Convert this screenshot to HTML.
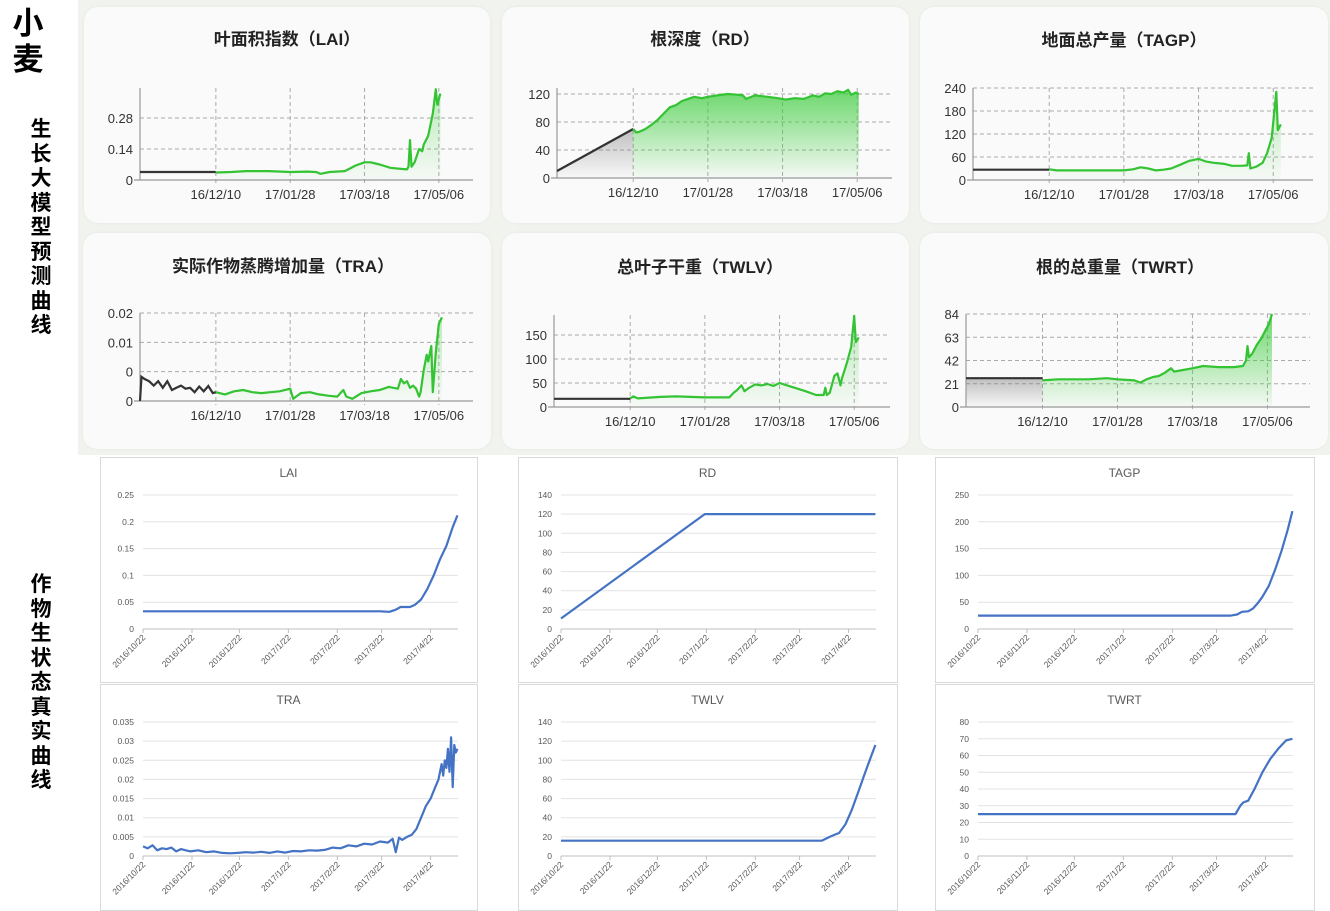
<!DOCTYPE html>
<html><head><meta charset="utf-8">
<style>
html,body{margin:0;padding:0;width:1330px;height:911px;overflow:hidden;background:#fff;font-family:"Liberation Sans","Noto Sans CJK SC",sans-serif;}
#panel{position:absolute;left:78px;top:0;width:1252px;height:455px;background:#f1f3ee;}
.card{position:absolute;background:#fafafa;border-radius:14px;box-shadow:0 0 3px rgba(0,0,0,0.06);}
.box{position:absolute;border:1px solid #d9d9d9;background:#fff;}
.side{position:absolute;font-weight:bold;color:#000;font-family:"Liberation Sans","Noto Sans CJK SC",sans-serif;text-align:center;}
svg{position:absolute;left:0;top:0;}
</style></head><body>
<div id="panel"></div>
<div class="card" style="left:84px;top:7px;width:406px;height:216px"></div>
<div class="card" style="left:502px;top:7px;width:407px;height:216px"></div>
<div class="card" style="left:920px;top:7px;width:408px;height:216px"></div>
<div class="card" style="left:83px;top:233px;width:408px;height:216px"></div>
<div class="card" style="left:502px;top:233px;width:407px;height:216px"></div>
<div class="card" style="left:920px;top:233px;width:408px;height:216px"></div>
<div class="box" style="left:100px;top:457px;width:376px;height:224px"></div>
<div class="box" style="left:518px;top:457px;width:378px;height:224px"></div>
<div class="box" style="left:935px;top:457px;width:378px;height:224px"></div>
<div class="box" style="left:100px;top:684px;width:376px;height:225px"></div>
<div class="box" style="left:518px;top:684px;width:378px;height:225px"></div>
<div class="box" style="left:935px;top:684px;width:378px;height:225px"></div>
<div class="side" style="left:6px;top:6px;width:44px;font-size:31px;line-height:36px">小<br>麦</div>
<div class="side" style="left:26px;top:118px;width:30px;font-size:21px;line-height:24.5px">生<br>长<br>大<br>模<br>型<br>预<br>测<br>曲<br>线</div>
<div class="side" style="left:26px;top:573px;width:30px;font-size:21px;line-height:24.5px">作<br>物<br>生<br>状<br>态<br>真<br>实<br>曲<br>线</div>
<svg id="chart" width="1330" height="911">
<defs>
<linearGradient id="gStrong" x1="0" y1="0" x2="0" y2="1"><stop offset="0" stop-color="#3ccc3c" stop-opacity="0.75"/><stop offset="1" stop-color="#3ccc3c" stop-opacity="0.03"/></linearGradient>
<linearGradient id="gLight" x1="0" y1="0" x2="0" y2="1"><stop offset="0" stop-color="#3ccc3c" stop-opacity="0.35"/><stop offset="1" stop-color="#3ccc3c" stop-opacity="0.02"/></linearGradient>
<linearGradient id="gGray" x1="0" y1="0" x2="0" y2="1"><stop offset="0" stop-color="#777" stop-opacity="0.45"/><stop offset="1" stop-color="#777" stop-opacity="0.02"/></linearGradient>
</defs>
</svg>
<script>
// ---------- Prediction chart data (day index from 2016/10/21) ----------
const PRED_TICK_DAYS=[50,99,148,197];
const PRED_TICK_LABELS=["16/12/10","17/01/28","17/03/18","17/05/06"];

const LAI_INIT_DAYS=[0,50];
const LAI_INIT_VALS=[0.036,0.036];
const LAI_DAYS=[50,60,70,85,99,110,116,119,125,135,142,148,152,158,165,172,176,177,178,179,181,184,186,187,190,193,195,196,198];
const LAI_VALS=[0.034,0.036,0.04,0.04,0.036,0.038,0.036,0.028,0.036,0.04,0.065,0.08,0.08,0.07,0.055,0.05,0.048,0.06,0.18,0.06,0.08,0.14,0.13,0.16,0.2,0.3,0.41,0.34,0.39];
const LAI_YTICKS=[0,0.14,0.28];
const LAI_YLABELS=["0","0.14","0.28"];

const RD_INIT_DAYS=[0,50];
const RD_INIT_VALS=[10,70];
const RD_DAYS=[50,52,54,58,62,66,70,74,78,82,86,90,95,99,105,112,118,122,124,130,138,145,150,156,162,168,172,176,180,184,188,191,193,196,198];
const RD_VALS=[70,65,66,70,76,83,92,101,104,110,113,116,114,116,118,120,119,118,113,118,116,114,112,114,113,118,116,121,120,124,122,126,119,122,120];
const RD_YTICKS=[0,40,80,120];
const RD_YLABELS=["0","40","80","120"];

const TAGP_INIT_DAYS=[0,50];
const TAGP_INIT_VALS=[27,27];
const TAGP_DAYS=[50,55,70,85,99,105,110,115,120,125,130,136,142,148,153,158,165,170,176,180,181,182,186,190,193,196,199,200,202];
const TAGP_VALS=[28,25,25,25,25,28,33,30,25,27,30,40,50,55,48,45,42,37,37,38,70,30,35,45,70,110,230,130,145];
const TAGP_YTICKS=[0,60,120,180,240];
const TAGP_YLABELS=["0","60","120","180","240"];

const TRA_INIT_DAYS=[0,1,3,6,9,12,15,18,21,24,27,30,33,36,39,42,45,48,50];
const TRA_INIT_VALS=[0,0.0055,0.005,0.0045,0.0035,0.0045,0.003,0.0045,0.0025,0.003,0.0035,0.0028,0.003,0.002,0.0033,0.0022,0.0034,0.0018,0.002];
const TRA_DAYS=[50,56,62,68,74,80,86,92,99,101,106,112,118,124,130,134,136,140,146,152,158,164,170,172,174,176,178,180,182,184,185,187,189,190,192,193,195,197,199];
const TRA_VALS=[0.002,0.0015,0.0022,0.0025,0.002,0.0018,0.002,0.0022,0.0028,0.0005,0.0018,0.002,0.0015,0.0012,0.001,0.0025,0.001,0.0005,0.0018,0.0022,0.0025,0.0032,0.0028,0.005,0.004,0.0045,0.003,0.0035,0.0028,0.001,0.002,0.007,0.0105,0.009,0.0125,0.002,0.011,0.0175,0.019];
const TRA_YTICKS=[0,0.00667,0.01333,0.02];
const TRA_YLABELS=["0","0","0.01","0.02"];

const TWLV_INIT_DAYS=[0,50];
const TWLV_INIT_VALS=[17,17];
const TWLV_DAYS=[50,52,55,70,80,99,115,118,120,123,125,128,132,136,140,144,148,152,158,165,172,177,178,179,181,184,186,188,189,192,195,197,198,200];
const TWLV_VALS=[18,22,18,21,22,20,20,30,35,45,33,40,47,45,48,44,50,46,40,33,25,25,40,25,30,65,70,45,60,90,125,190,135,145];
const TWLV_YTICKS=[0,50,100,150];
const TWLV_YLABELS=["0","50","100","150"];

const TWRT_INIT_DAYS=[0,50];
const TWRT_INIT_VALS=[26,26];
const TWRT_DAYS=[50,60,80,92,99,110,114,118,122,126,130,134,136,140,148,155,165,175,181,183,184,185,187,190,193,196,198,200];
const TWRT_VALS=[24,25,25,26,25,24,22,25,27,28,31,35,32,33,35,37,36,36,37,42,55,45,48,56,62,70,75,84];
const TWRT_YTICKS=[0,21,42,63,84];
const TWRT_YLABELS=["0","21","42","63","84"];

// ---------- Real chart data (day index from 2016/10/22) ----------
const REAL_TICK_DAYS=[0,31,61,92,123,151,182];
const REAL_TICK_LABELS=["2016/10/22","2016/11/22","2016/12/22","2017/1/22","2017/2/22","2017/3/22","2017/4/22"];

const R_LAI_DAYS=[0,150,156,160,163,169,172,176,180,184,188,192,196,199];
const R_LAI_VALS=[0.033,0.033,0.032,0.036,0.041,0.041,0.045,0.055,0.075,0.1,0.13,0.155,0.19,0.212];
const R_LAI_YTICKS=[0,0.05,0.1,0.15,0.2,0.25];
const R_LAI_YLABELS=["0","0.05","0.1","0.15","0.2","0.25"];

const R_RD_DAYS=[0,91,199];
const R_RD_VALS=[11,120,120];
const R_RD_YTICKS=[0,20,40,60,80,100,120,140];
const R_RD_YLABELS=["0","20","40","60","80","100","120","140"];

const R_TAGP_DAYS=[0,160,164,167,171,174,177,180,184,188,192,196,199];
const R_TAGP_VALS=[25,25,27,32,33,38,48,60,80,110,145,185,220];
const R_TAGP_YTICKS=[0,50,100,150,200,250];
const R_TAGP_YLABELS=["0","50","100","150","200","250"];

const R_TRA_DAYS=[0,3,6,9,12,15,18,21,24,27,30,35,40,45,50,55,60,65,70,75,80,85,90,95,100,105,110,115,120,125,130,135,140,145,150,155,158,160,162,164,167,170,173,176,179,182,185,187,189,190,191,192,193,194,195,196,197,198,199];
const R_TRA_VALS=[0.0025,0.002,0.0028,0.0015,0.002,0.0018,0.0022,0.0012,0.0018,0.0015,0.0012,0.0015,0.001,0.0012,0.0008,0.0007,0.0008,0.001,0.0009,0.0011,0.0008,0.0012,0.0009,0.0013,0.0012,0.0015,0.0014,0.0016,0.0022,0.002,0.0028,0.0025,0.0032,0.003,0.0038,0.0035,0.0045,0.001,0.0048,0.0042,0.005,0.0055,0.007,0.01,0.013,0.015,0.018,0.02,0.024,0.021,0.025,0.023,0.028,0.022,0.031,0.018,0.029,0.027,0.028];
const R_TRA_YTICKS=[0,0.005,0.01,0.015,0.02,0.025,0.03,0.035];
const R_TRA_YLABELS=["0","0.005","0.01","0.015","0.02","0.025","0.03","0.035"];

const R_TWLV_DAYS=[0,165,170,173,176,180,184,188,192,196,199];
const R_TWLV_VALS=[16,16,20,22,24,33,48,66,85,103,116];
const R_TWLV_YTICKS=[0,20,40,60,80,100,120,140];
const R_TWLV_YLABELS=["0","20","40","60","80","100","120","140"];

const R_TWRT_DAYS=[0,163,166,168,171,175,180,185,190,195,199];
const R_TWRT_VALS=[25,25,30,32,33,40,50,58,64,69,70];
const R_TWRT_YTICKS=[0,10,20,30,40,50,60,70,80];
const R_TWRT_YLABELS=["0","10","20","30","40","50","60","70","80"];

const svg=document.getElementById('chart');
const NS='http://www.w3.org/2000/svg';
function mk(tag,attrs,text){
  const e=document.createElementNS(NS,tag);
  for(const k in attrs)e.setAttribute(k,attrs[k]);
  if(text!==undefined)e.textContent=text;
  svg.appendChild(e);
  return e;
}
function pathOf(days,vals,xs,ys){
  let d='';
  for(let i=0;i<days.length;i++)d+=(i?'L':'M')+xs(days[i]).toFixed(1)+','+ys(vals[i]).toFixed(1);
  return d;
}

function drawPred(key,title,cx,titleY,left,pxd,right,bottom,topPx,yMax,yTicks,yLabels,initD,initV,days,vals,strong,grayFill){
  const xs=d=>left+d*pxd;
  const ys=v=>bottom-(v/yMax)*(bottom-topPx);
  const t=mk('text',{x:cx,y:titleY,'text-anchor':'middle','font-size':'17','font-weight':'bold',fill:'#222'},title);
  
  
  // horizontal gridlines
  for(let i=0;i<yTicks.length;i++){
    const y=ys(yTicks[i]);
    if(yTicks[i]!==0){
      const g=mk('line',{x1:left,x2:right,y1:y,y2:y,stroke:'#aaa','stroke-width':'1','stroke-dasharray':'4,3'});
      
      
    }
    const lb=mk('text',{x:left-7,y:y+5,'text-anchor':'end','font-size':'13',fill:'#333'},yLabels[i]);
    
    
  }
  for(let i=0;i<PRED_TICK_DAYS.length;i++){
    const x=xs(PRED_TICK_DAYS[i]);
    const g=mk('line',{x1:x,x2:x,y1:topPx,y2:bottom+4,stroke:'#aaa','stroke-width':'1','stroke-dasharray':'4,3'});
    
    
    const lb=mk('text',{x:x,y:bottom+19,'text-anchor':'middle','font-size':'13',fill:'#333'},PRED_TICK_LABELS[i]);
    
    
  }
  // areas
  const ga=mk('path',{d:pathOf(days,vals,xs,ys)+'L'+xs(days[days.length-1])+','+bottom+'L'+xs(days[0])+','+bottom+'Z',fill:strong?'url(#gStrong)':'url(#gLight)',stroke:'none'});
  
  
  if(grayFill){
    const gg=mk('path',{d:pathOf(initD,initV,xs,ys)+'L'+xs(initD[initD.length-1])+','+bottom+'L'+xs(initD[0])+','+bottom+'Z',fill:'url(#gGray)',stroke:'none'});
    
    
  }
  // axes
  const ax=mk('line',{x1:left,x2:left,y1:topPx,y2:bottom,stroke:'#999','stroke-width':'1.2'});
  
  
  const bx=mk('line',{x1:left-6,x2:right,y1:bottom,y2:bottom,stroke:'#999','stroke-width':'1.2'});
  
  
  const il=mk('path',{d:pathOf(initD,initV,xs,ys),fill:'none',stroke:'#333','stroke-width':'2.2'});
  
  
  const pl=mk('path',{d:pathOf(days,vals,xs,ys),fill:'none',stroke:'#33c333','stroke-width':'2.2','stroke-linejoin':'round'});
  
  
}

function drawReal(key,title,bx,by,bw,yMax,yTicks,yLabels,days,vals){
  const left=bx+43,right=bx+358,top=by+38,bottom=by+172,pxd=1.58;
  const xs=d=>left+d*pxd;
  const ys=v=>bottom-(v/yMax)*(bottom-top);
  const t=mk('text',{x:bx+bw/2,y:by+20,'text-anchor':'middle','font-size':'12',fill:'#595959'},title);
  
  
  for(let i=0;i<yTicks.length;i++){
    const y=ys(yTicks[i]);
    const g=mk('line',{x1:left,x2:right,y1:y,y2:y,stroke:yTicks[i]===0?'#bfbfbf':'#e3e3e3','stroke-width':'1'});
    
    
    const lb=mk('text',{x:left-9,y:y+3,'text-anchor':'end','font-size':'8.5',fill:'#595959'},yLabels[i]);
    
    
  }
  for(let i=0;i<REAL_TICK_DAYS.length;i++){
    const x=xs(REAL_TICK_DAYS[i]);
    const tk=mk('line',{x1:x,x2:x,y1:bottom,y2:bottom+4,stroke:'#bfbfbf','stroke-width':'1'});
    
    
    const lb=mk('text',{x:x+3,y:bottom+9,'text-anchor':'end','font-size':'8.5',fill:'#595959',transform:'rotate(-45 '+(x+3)+' '+(bottom+9)+')'},REAL_TICK_LABELS[i]);
    
    
  }
  const l=mk('path',{d:pathOf(days,vals,xs,ys),fill:'none',stroke:'#4472c4','stroke-width':'2.2','stroke-linejoin':'round'});
  
  
}

drawPred('lai','叶面积指数（LAI）',287,45,140,1.517,473,180,88,0.4155,LAI_YTICKS,LAI_YLABELS,LAI_INIT_DAYS,LAI_INIT_VALS,LAI_DAYS,LAI_VALS,false,false);
drawPred('rd','根深度（RD）',705,45,557,1.524,892,178,88,128.6,RD_YTICKS,RD_YLABELS,RD_INIT_DAYS,RD_INIT_VALS,RD_DAYS,RD_VALS,true,true);
drawPred('tagp','地面总产量（TAGP）',1124,46,973,1.524,1313,180,88,240,TAGP_YTICKS,TAGP_YLABELS,TAGP_INIT_DAYS,TAGP_INIT_VALS,TAGP_DAYS,TAGP_VALS,false,false);
drawPred('tra','实际作物蒸腾增加量（TRA）',283,272,140,1.517,473,401,313,0.02,TRA_YTICKS,TRA_YLABELS,TRA_INIT_DAYS,TRA_INIT_VALS,TRA_DAYS,TRA_VALS,false,false);
drawPred('twlv','总叶子干重（TWLV）',700,273,554,1.524,890,407,315,191.7,TWLV_YTICKS,TWLV_YLABELS,TWLV_INIT_DAYS,TWLV_INIT_VALS,TWLV_DAYS,TWLV_VALS,false,false);
drawPred('twrt','根的总重量（TWRT）',1120,273,966,1.53,1310,407,314,84,TWRT_YTICKS,TWRT_YLABELS,TWRT_INIT_DAYS,TWRT_INIT_VALS,TWRT_DAYS,TWRT_VALS,true,true);

drawReal('lai','LAI',100,457,377,0.25,R_LAI_YTICKS,R_LAI_YLABELS,R_LAI_DAYS,R_LAI_VALS);
drawReal('rd','RD',518,457,379,140,R_RD_YTICKS,R_RD_YLABELS,R_RD_DAYS,R_RD_VALS);
drawReal('tagp','TAGP',935,457,379,250,R_TAGP_YTICKS,R_TAGP_YLABELS,R_TAGP_DAYS,R_TAGP_VALS);
drawReal('tra','TRA',100,684,377,0.035,R_TRA_YTICKS,R_TRA_YLABELS,R_TRA_DAYS,R_TRA_VALS);
drawReal('twlv','TWLV',518,684,379,140,R_TWLV_YTICKS,R_TWLV_YLABELS,R_TWLV_DAYS,R_TWLV_VALS);
drawReal('twrt','TWRT',935,684,379,80,R_TWRT_YTICKS,R_TWRT_YLABELS,R_TWRT_DAYS,R_TWRT_VALS);
</script>
</body></html>
